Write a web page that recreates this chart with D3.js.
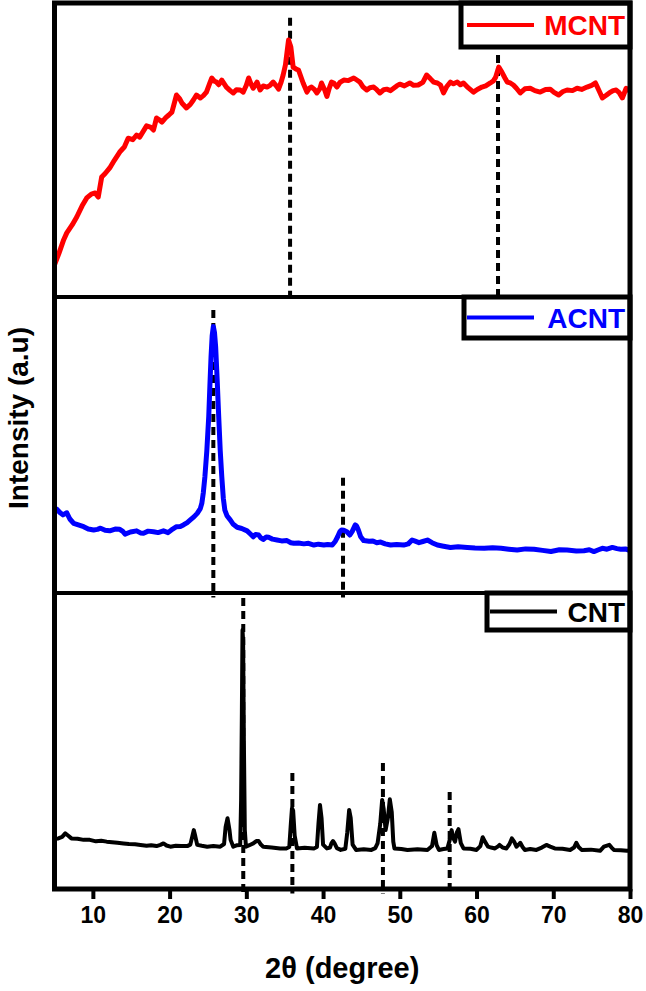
<!DOCTYPE html>
<html>
<head>
<meta charset="utf-8">
<script src="https://cdn.jsdelivr.net/npm/d3@7"></script>
<style>
  body { margin: 0; background: #fff; }
  text { font-family: "Liberation Sans", Arial, sans-serif; font-weight: bold; }
</style>
</head>
<body>
<script>
// series names and colours
var names = ["MCNT", "ACNT", "CNT"];
var colors = ["#ff0000", "#0000ff", "#000000"];

// x ticks
var xTicks = [10, 20, 30, 40, 50, 60, 70, 80];

// MCNT pattern [2theta, intensity a.u.]
var mcnt = [[5.0,10.9],[5.6,15],[6.2,19.5],[6.6,21.8],[7.3,24.5],[7.9,27.2],[8.6,31],[9.2,33.7],[9.8,35],[10.3,35.4],[10.7,34],[11.15,40.8],[11.6,42],[12.2,43.9],[12.8,46.5],[13.5,49.3],[14.1,51],[14.6,54],[15.2,53.5],[15.7,55.1],[16.1,54.4],[16.6,56.5],[17.0,58.2],[17.5,57.8],[17.9,56.8],[18.3,60.9],[18.7,60.2],[19.0,59.5],[19.5,61],[19.9,61.9],[20.3,62.9],[20.9,68.7],[21.3,67.5],[21.6,66],[22.2,64.3],[22.7,65.5],[23.1,67],[23.5,68.7],[24.0,67.7],[24.4,68.5],[24.8,69.7],[25.2,72.5],[25.5,74.5],[25.8,73.5],[26.1,73.1],[26.4,72.2],[26.8,73.8],[27.1,72.6],[27.4,71.4],[27.9,70.2],[28.3,69.4],[28.7,70.5],[29.2,70.4],[29.6,69.7],[30.0,72],[30.3,74.5],[30.6,72.5],[30.9,71],[31.4,73.1],[31.8,70.4],[32.2,71.8],[32.7,71.4],[33.1,72],[33.5,73.1],[33.9,71.8],[34.2,70.7],[34.5,72.8],[34.8,75.5],[35.1,79],[35.5,87.4],[35.8,85],[36.1,78.2],[36.5,77.5],[36.8,77.2],[37.1,75],[37.4,72.8],[37.9,69.7],[38.2,71],[38.5,71.4],[38.9,70.5],[39.2,69.4],[39.6,71],[39.8,72.8],[40.2,70.5],[40.5,68.2],[40.8,71],[41.1,73.1],[41.4,72.8],[41.8,71.4],[42.2,73],[42.7,73.8],[43.3,73.6],[44.0,74.5],[44.4,73.8],[44.8,73.1],[45.2,71.5],[45.7,70.4],[46.1,71.2],[46.6,71.4],[47.0,70.5],[47.4,69.4],[47.9,70.5],[48.3,70.7],[48.8,70.2],[49.2,71],[49.6,71.8],[50.0,72.4],[50.6,71.8],[51.3,72.8],[51.8,72],[52.4,72.1],[53.0,73],[53.5,75.5],[54.0,74.2],[54.4,73.1],[54.9,72.8],[55.3,72.1],[55.7,69.4],[56.1,71.5],[56.6,73.1],[57.0,72.5],[57.5,73.1],[57.9,72.2],[58.3,72.8],[58.9,71.2],[59.6,69.7],[60.1,70.6],[60.7,71.4],[61.2,71.8],[61.8,72.8],[62.2,73.5],[62.5,74.8],[62.9,78.2],[63.3,76.5],[63.7,74.5],[64.0,73.1],[64.4,72.8],[64.8,72.1],[65.2,71],[65.7,69.4],[66.3,70.8],[67.0,71],[67.6,70.2],[68.3,69.7],[69.0,70.6],[69.6,70.7],[70.1,69.6],[70.7,68.7],[71.2,69.8],[71.8,70.4],[72.5,70.2],[73.1,71],[73.7,70.6],[74.4,71.4],[75.0,72],[75.5,72.8],[76.0,70],[76.4,67.7],[76.9,68.6],[77.3,69.4],[77.8,70.2],[78.2,70.4],[78.6,69.5],[79.0,67.7],[79.5,71],[80.0,70]];

// ACNT pattern
var acnt = [[5.0,28.5],[5.3,28.3],[5.7,27.2],[6.1,26.4],[6.6,27.1],[7.0,25],[7.5,23.5],[8.1,23],[8.8,22.4],[9.4,21.6],[10.1,21.3],[10.6,21.5],[11.0,21.9],[11.6,21.2],[12.2,21.0],[12.9,21.6],[13.5,21.5],[13.9,20.8],[14.2,19.9],[14.9,20.6],[15.7,21.0],[16.2,20.3],[16.6,20.2],[17.2,20.9],[17.9,20.7],[18.5,20.4],[19.2,21.0],[19.8,20.4],[20.4,21.6],[20.9,22.4],[21.4,22.5],[21.8,23],[22.3,23.8],[22.7,24.7],[23.2,25.8],[23.6,26.9],[24.0,28.5],[24.2,30.3],[24.4,34],[24.6,39.3],[24.85,48],[25.1,59.6],[25.25,70],[25.4,79.8],[25.55,87],[25.7,90],[25.85,88],[26.0,83.2],[26.2,72],[26.4,59.6],[26.6,48],[26.8,39.3],[27.0,32],[27.2,28],[27.5,26],[27.9,24.7],[28.3,23.2],[28.8,22.2],[29.4,21.8],[30.1,21],[30.5,20],[30.9,19],[31.2,19.8],[31.6,19.6],[31.9,18.6],[32.2,18.1],[32.6,18.9],[32.9,18.8],[33.4,18.2],[34.0,17.9],[34.6,17.6],[35.3,17.7],[35.8,17],[36.2,16.8],[36.8,16.9],[37.5,16.6],[38.1,16.8],[38.8,16.2],[39.4,16.5],[40.1,16.2],[40.6,16.4],[41.2,16.2],[41.6,17.5],[41.9,19],[42.2,20.8],[42.4,21.3],[42.7,21.2],[43.1,20.7],[43.5,19.6],[43.8,20.8],[44.2,23],[44.4,22.5],[44.6,21.3],[44.9,19],[45.3,17.7],[46.0,17.5],[46.5,17.6],[47.0,17],[47.5,17.2],[48.1,16.6],[48.8,16.2],[49.6,16.4],[50.5,16.2],[51.1,16.6],[51.6,17.9],[52.0,17.5],[52.5,17],[53.0,17.4],[53.6,17.9],[54.2,17],[54.9,16.2],[55.7,15.8],[56.6,15.4],[57.6,15.6],[58.8,15.4],[59.8,15.2],[61.0,15.1],[62.1,15.3],[63.2,15.1],[64.2,14.8],[65.3,14.5],[66.4,14.9],[67.5,14.8],[68.6,14.4],[69.7,14],[70.8,14.6],[71.8,14.5],[73.0,14.2],[74.0,14.3],[74.7,14.6],[75.3,14],[75.9,14.6],[76.4,15.1],[77.0,14.8],[77.7,15.4],[78.3,15],[78.8,14.8],[79.4,14.9],[80.0,14.3]];

// CNT pattern
var cnt = [[5.0,17],[5.5,17.1],[6.0,17.6],[6.4,18.8],[6.8,18],[7.2,17.1],[8.0,17],[8.8,16.6],[9.6,16.6],[10.4,16.1],[11.1,16.3],[11.8,16],[12.5,15.8],[13.2,15.6],[14.0,15.4],[14.7,15.2],[15.5,15.1],[16.2,14.9],[17.0,14.6],[17.6,14.8],[18.3,14.5],[18.8,14.9],[19.2,15.4],[19.6,14.7],[20.1,14.3],[20.8,14.6],[21.5,14.5],[22.3,14.5],[22.7,15],[22.95,17.7],[23.15,19.9],[23.35,17.8],[23.6,14.9],[24.2,14.6],[24.9,14.3],[25.7,14.5],[26.6,14.3],[27.1,15.2],[27.3,21],[27.55,23.9],[27.8,20],[27.95,16.6],[28.3,14.3],[28.8,14.8],[29.2,14.9],[29.32,30],[29.42,60],[29.5,87.5],[29.58,84],[29.68,50],[29.8,20],[29.95,14.3],[30.4,14.8],[30.9,15.4],[31.3,16.2],[31.6,16.2],[31.9,15],[32.2,14.3],[33.3,14],[34.4,13.7],[35.2,13.7],[35.6,14.2],[35.8,22],[35.95,27.3],[36.1,26.5],[36.3,18],[36.6,13.7],[37.6,13.9],[38.8,13.7],[39.2,14.2],[39.4,22],[39.6,28.4],[39.8,24],[40.0,15],[40.5,13.7],[40.9,14],[41.1,15.5],[41.3,16.2],[41.5,15.4],[41.8,13.8],[42.3,13.2],[42.9,13.6],[43.15,19],[43.4,26.7],[43.6,24],[43.85,15],[44.3,13.2],[45.3,13.4],[46.3,13.2],[46.8,13.8],[47.1,15.4],[47.45,22],[47.7,30.1],[47.9,27],[48.15,19.9],[48.45,24],[48.7,30.3],[48.95,26],[49.15,16],[49.3,13.7],[50.2,13.5],[51.0,13.2],[52.3,13.4],[53.6,13.2],[54.2,14.5],[54.5,19],[54.8,14.8],[55.1,13.2],[55.7,13.5],[56.2,13.7],[56.5,16.5],[56.75,19.9],[57.0,17],[57.2,16],[57.45,19.2],[57.65,20.2],[57.95,15.5],[58.3,13.7],[59.2,13.6],[60.0,13.2],[60.5,14.5],[60.8,17.5],[61.1,16],[61.5,14.3],[61.9,14],[62.4,13.7],[62.8,14.4],[63.0,14.9],[63.4,14],[63.9,13.7],[64.3,15.2],[64.6,17.1],[64.9,16],[65.2,14.3],[65.5,15],[65.7,15.6],[66.0,14.2],[66.3,13.2],[67.0,13.5],[67.8,13.2],[68.5,14],[69.1,14.9],[69.6,14.3],[70.2,13.7],[71.2,13.6],[72.2,13.2],[72.7,14],[73.0,15.6],[73.3,14.2],[73.7,13.2],[74.9,13.3],[76.1,12.9],[76.6,14.3],[77.3,14.9],[77.6,14],[77.9,13.2],[78.8,13.1],[79.6,12.9],[80.0,13]];

// dashed peak markers [2theta, top of dash]
var mcntMarks = [[35.7, 95], [62.8, 82.3]];
var acntMarks = [[25.7, 95.6], [42.6, 38.9]];
var cntMarks = [[29.6, 98.3], [36.0, 39.2], [47.8, 42.6], [56.5, 32.8]];

var width = 646, height = 991;
var left = 54.5, right = 630;
var bounds = [3, 297, 593, 889]; // panel edges top to bottom

var svg = d3.select("body").append("svg")
    .attr("width", width)
    .attr("height", height);

var x = d3.scaleLinear().domain([5, 80]).range([left, right]);

var panels = [
  { data: mcnt, marks: mcntMarks, legend: { x: 461, h: 44, lx: 467 } },
  { data: acnt, marks: acntMarks, legend: { x: 464, h: 41, lx: 467 } },
  { data: cnt,  marks: cntMarks,  legend: { x: 487, h: 37, lx: 490 } }
];

panels.forEach(function(p, i) {
  var top = bounds[i], bottom = bounds[i + 1];
  var y = d3.scaleLinear().domain([0, 100]).range([bottom, top]);
  var g = svg.append("g");

  // dashed reference lines
  g.selectAll("line.mark")
    .data(p.marks)
    .enter().append("line")
    .attr("x1", function(d) { return x(d[0]); })
    .attr("x2", function(d) { return x(d[0]); })
    .attr("y1", function(d) { return y(d[1]); })
    .attr("y2", y(-1.5))
    .attr("stroke", "#000")
    .attr("stroke-width", 4)
    .attr("stroke-dasharray", "8,5");

  var line = d3.line()
    .x(function(d) { return x(d[0]); })
    .y(function(d) { return y(d[1]); });

  g.append("path")
    .datum(p.data)
    .attr("d", line)
    .attr("fill", "none")
    .attr("stroke", colors[i])
    .attr("stroke-width", i == 2 ? 4 : 5)
    .attr("stroke-linejoin", "round");

  // legend box
  var L = p.legend;
  var lg = svg.append("g");
  lg.append("rect")
    .attr("x", L.x).attr("y", top)
    .attr("width", right - L.x).attr("height", L.h)
    .attr("fill", "#fff")
    .attr("stroke", "#000")
    .attr("stroke-width", 5);
  lg.append("line")
    .attr("x1", L.lx).attr("x2", L.lx + 67)
    .attr("y1", top + L.h / 2).attr("y2", top + L.h / 2)
    .attr("stroke", colors[i])
    .attr("stroke-width", 4);
  lg.append("text")
    .attr("x", 625).attr("y", top + L.h / 2)
    .attr("dy", "0.36em")
    .attr("text-anchor", "end")
    .attr("font-size", 28)
    .attr("fill", colors[i])
    .text(names[i]);
});

// panel separators
svg.selectAll("line.sep")
  .data(bounds.slice(1, 3))
  .enter().append("line")
  .attr("x1", left).attr("x2", right)
  .attr("y1", function(d) { return d; })
  .attr("y2", function(d) { return d; })
  .attr("stroke", "#000")
  .attr("stroke-width", 4);

// outer frame
svg.append("rect")
  .attr("x", left).attr("y", bounds[0])
  .attr("width", right - left).attr("height", bounds[3] - bounds[0])
  .attr("fill", "none")
  .attr("stroke", "#000")
  .attr("stroke-width", 5);

// x axis
var xAxis = svg.append("g")
  .attr("transform", "translate(0," + bounds[3] + ")")
  .call(d3.axisBottom(x).tickValues(xTicks).tickSize(10).tickPadding(8));
xAxis.select(".domain").remove();
xAxis.selectAll(".tick line").attr("stroke", "#000").attr("stroke-width", 4);
xAxis.selectAll(".tick text")
  .attr("font-size", 23)
  .attr("font-family", "Liberation Sans, Arial, sans-serif")
  .attr("font-weight", "bold")
  .attr("fill", "#000");

// axis titles
svg.append("text")
  .attr("x", (left + right) / 2)
  .attr("y", 978)
  .attr("text-anchor", "middle")
  .attr("font-size", 29)
  .text("2θ (degree)");

svg.append("text")
  .attr("transform", "translate(28," + 418 + ") rotate(-90)")
  .attr("text-anchor", "middle")
  .attr("font-size", 28)
  .text("Intensity (a.u)");
</script>
</body>
</html>
